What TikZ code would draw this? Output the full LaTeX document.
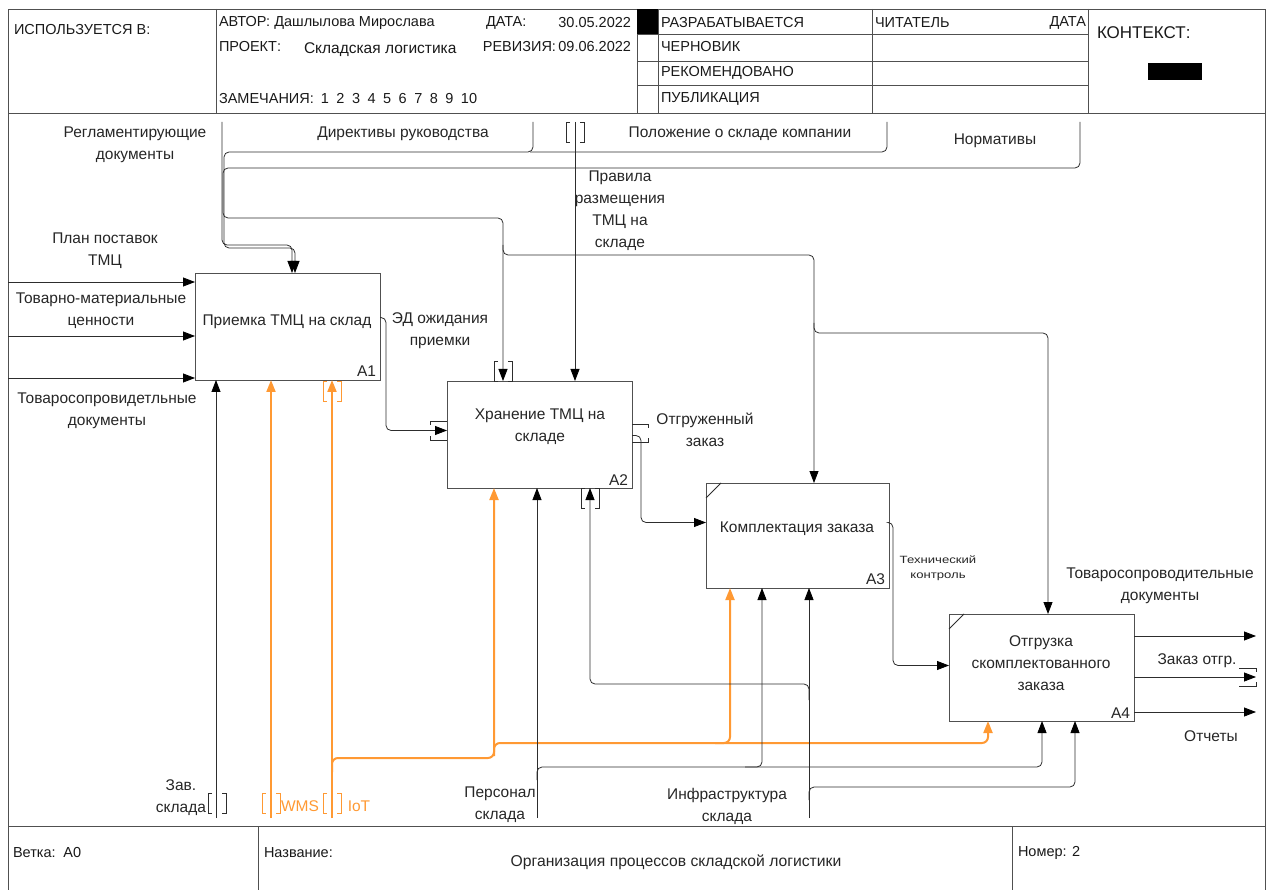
\documentclass[tikz,border=0pt]{standalone}
\usepackage{fontspec}
\usepackage{graphicx}
\setmainfont{Liberation Sans}
\usetikzlibrary{arrows.meta}
\definecolor{ln}{RGB}{45,45,45}
\definecolor{bx}{RGB}{80,80,80}
\definecolor{org}{RGB}{255,153,51}
\newcommand{\tunv}[3]{%
 \draw[#1] (#2-5,#3-10) -- (#2-9,#3-10) -- (#2-9,#3+10) -- (#2-5,#3+10);
 \draw[#1] (#2+5,#3-10) -- (#2+9,#3-10) -- (#2+9,#3+10) -- (#2+5,#3+10);}
\begin{document}
\begin{tikzpicture}[x=1pt,y=-1pt,
  every node/.style={inner sep=0pt, outer sep=0pt},
  frame/.style={draw=bx, line width=0.8pt},
  hdr/.style={font=\fontsize{14.5}{16}\selectfont, anchor=west, text=black!90},
  ftr/.style={font=\fontsize{14.5}{16}\selectfont, anchor=west, text=black!90},
  lbl/.style={font=\fontsize{15.5}{22}\selectfont, align=center, text=black!85},
  small/.style={font=\fontsize{10.5}{15}\selectfont, align=center, text=black!85},
  olbl/.style={font=\fontsize{15.5}{22}\selectfont, text=org},
  proc/.style={draw=bx, line width=0.9pt, minimum width=185pt, minimum height=107pt, anchor=north west},
  conn/.style={draw=ln, line width=0.8pt, rounded corners=5pt},
  arr/.style={conn, -{Triangle[length=12pt,width=9pt,color=black]}},
  oarr/.style={draw=org, line width=2pt, rounded corners=6pt, -{Triangle[length=12pt,width=9pt]}},
  brk/.style={draw=ln, line width=0.8pt},
  obrk/.style={draw=org, line width=0.9pt},
]
\useasboundingbox (0,0) rectangle (1272,890);
% ---------- frame ----------
\draw[frame] (8,890) -- (8,9) -- (1265,9) -- (1265,890);
\draw[frame] (8,113) -- (1265,113);
\foreach \xx in {216,637,658,872,1088} \draw[frame] (\xx,9) -- (\xx,113);
\foreach \yy in {34,61,85} \draw[frame] (637,\yy) -- (1088,\yy);
\fill[black] (637,9) rectangle (658,34);
\fill[black] (1148,63) rectangle (1202,80);
\draw[frame] (8,826) -- (1265,826);
\draw[frame] (258,826) -- (258,890);
\draw[frame] (1012,826) -- (1012,890);
% ---------- header text ----------
\node[hdr] (h1) at (14,30) {ИСПОЛЬЗУЕТСЯ В:};
\node[hdr] (h2) at (219,23) {АВТОР: Дашлылова Мирослава};
\node[hdr] (h3) at (486,23) {ДАТА:};
\node[hdr, anchor=east] (h4) at (631,23) {30.05.2022};
\node[hdr] (h5) at (219,47) {ПРОЕКТ:};
\node[hdr, font=\fontsize{15.5}{17}\selectfont] (h6) at (304,50) {Складская логистика};
\node[hdr, anchor=east] (h7) at (631,47) {РЕВИЗИЯ:\,09.06.2022};
\node[hdr] (h8) at (219,99) {ЗАМЕЧАНИЯ:\hspace{7pt}1\hspace{7.5pt}2\hspace{7.5pt}3\hspace{7.5pt}4\hspace{7.5pt}5\hspace{7.5pt}6\hspace{7.5pt}7\hspace{7.5pt}8\hspace{7.5pt}9\hspace{7.5pt}10};
\node[hdr] (h9) at (661,23) {РАЗРАБАТЫВАЕТСЯ};
\node[hdr] (h10) at (875,23) {ЧИТАТЕЛЬ};
\node[hdr, anchor=east] (h11) at (1086,23) {ДАТА};
\node[hdr] (h12) at (661,47) {ЧЕРНОВИК};
\node[hdr] (h13) at (661,73) {РЕКОМЕНДОВАНО};
\node[hdr] (h14) at (661,99) {ПУБЛИКАЦИЯ};
\node[hdr, font=\fontsize{17}{19}\selectfont] (h15) at (1097,33) {КОНТЕКСТ:};
% ---------- footer text ----------
\node[ftr] (f1) at (13,853) {Ветка:\, A0};
\node[ftr] (f2) at (264,853) {Название:};
\node[lbl, font=\fontsize{15.7}{18}\selectfont] (f3) at (676,862) {Организация процессов складской логистики};
\node[ftr] (f4) at (1018,853) {Номер: 2};
% ---------- activity boxes ----------
\node[proc] (A1) at (195,273) {};
\node[proc] (A2) at (447,381) {};
\node[proc, minimum width=183pt, minimum height=105pt] (A3) at (706,483) {};
\node[proc] (A4) at (949,614) {};
\node[lbl] (t1) at (287,322) {Приемка ТМЦ на склад};
\node[lbl] (t2) at (540,427) {Хранение ТМЦ на\\складе};
\node[lbl] (t3) at (797,529) {Комплектация заказа};
\node[lbl] (t4) at (1041,663) {Отгрузка\\скомплектованного\\заказа};
\node[lbl, anchor=south east] (n1) at ([xshift=-4pt,yshift=3pt]A1.south east) {A1};
\node[lbl, anchor=south east] (n2) at ([xshift=-4pt,yshift=3pt]A2.south east) {A2};
\node[lbl, anchor=south east] (n3) at ([xshift=-4pt,yshift=3pt]A3.south east) {A3};
\node[lbl, anchor=south east] (n4) at ([xshift=-4pt,yshift=3pt]A4.south east) {A4};
\draw[conn] ([yshift=-15pt]A3.north west) -- ([xshift=15pt]A3.north west);
\draw[conn] ([yshift=-15pt]A4.north west) -- ([xshift=15pt]A4.north west);
% ---------- inputs ----------
\coordinate (in1) at (8,282);
\coordinate (in2) at (8,336);
\coordinate (in3) at (8,378);
\draw[arr] (in1) -- (in1 -| A1.west);
\draw[arr] (in2) -- (in2 -| A1.west);
\draw[arr] (in3) -- (in3 -| A1.west);
\node[lbl] (l1) at (105,251) {План поставок\\ТМЦ};
\node[lbl] (l2) at (101,311) {Товарно-материальные\\ценности};
\node[lbl] (l3) at (107,411) {Товаросопровидетльные\\документы};
% ---------- controls ----------
\coordinate (c1) at (222,122);
\coordinate (c2) at (533,122);
\coordinate (c3) at (887,122);
\coordinate (c4) at (1080,122);
\coordinate (c5) at (575,122);
\draw[arr] (c1) -- (222,245) -- (292,245) -- ([xshift=97pt]A1.north west);
\draw[arr] (c2) -- (533,152) -- (224,152) -- (224,248) -- (295,248) -- ([xshift=100pt]A1.north west);
\draw[conn] (c3) -- (887,152) -- (530,152);
\draw[arr] (c4) -- (1080,168) -- (223,168) -- (223,218) -- (503,218) -- ([xshift=56pt]A2.north west);
\draw[arr] (c5) -- ([xshift=128pt]A2.north west);
\draw[arr] (503,245) -- (503,255) -- (814,255) -- ([xshift=108pt]A3.north west);
\draw[arr] (814,323) -- (814,333) -- (1048,333) -- ([xshift=99pt]A4.north west);
\tunv{brk}{575}{132}
\tunv{brk}{503}{371}
\node[lbl] (l4) at (135,145) {Регламентирующие\\документы};
\node[lbl] (l5) at (403,134) {Директивы руководства};
\node[lbl] (l6) at (740,134) {Положение о складе компании};
\node[lbl] (l7) at (995,141) {Нормативы};
\node[lbl] (l8) at (620,211) {Правила\\размещения\\ТМЦ на\\складе};
% ---------- internal flows ----------
\draw[arr] ([yshift=9pt]A1.east) -- (386,317.5) -- (386,430.5) -- ([yshift=4pt]A2.west);
\draw[brk] (447,421) -- (430,421) -- (430,425);
\draw[brk] (447,440) -- (430,440) -- (430,436);
\node[lbl] (l9) at (440,331) {ЭД ожидания\\приемки};
\draw[arr] ([yshift=-1pt]A2.east) -- (641,435.5) -- (641,522.5) -- ([yshift=13pt]A3.west);
\draw[brk] (632,424) -- (648,424) -- (648,428);
\draw[brk] (632,442) -- (648,442) -- (648,438);
\node[lbl] (l10) at (705,430) {Отгруженный\\заказ};
\draw[arr] ([yshift=13pt]A3.east) -- (893,522.5) -- (893,665.5) -- ([yshift=2pt]A4.west);
\node[small] (l11) at (938,568) {\scalebox{1.25}[1]{Технический}\\\scalebox{1.25}[1]{контроль}};
% ---------- outputs ----------
\coordinate (o1) at (1256,636);
\coordinate (o2) at (1256,677);
\coordinate (o3) at (1256,712);
\draw[arr] (o1 -| A4.east) -- (o1);
\draw[arr] (o2 -| A4.east) -- (o2);
\draw[arr] (o3 -| A4.east) -- (o3);
\draw[brk] (1239,668) -- (1256,668) -- (1256,672);
\draw[brk] (1239,686) -- (1256,686) -- (1256,682);
\node[lbl] (l12) at (1160,586) {Товаросопроводительные\\документы};
\node[lbl] (l13) at (1197,661) {Заказ отгр.};
\node[lbl] (l14) at (1211,736) {Отчеты};
% ---------- mechanisms ----------
\coordinate (m1) at (216,818);
\coordinate (m2) at (271,818);
\coordinate (m3) at (332,818);
\coordinate (m4) at (537,818);
\coordinate (m5) at (809,818);
\draw[arr] (m1) -- (m1 |- A1.south);
\draw[oarr] (m2) -- (m2 |- A1.south);
\draw[oarr] (m3) -- (m3 |- A1.south);
\draw[oarr] (332,772) -- (332,758) -- (494,758) -- ([xshift=47pt]A2.south west);
\draw[oarr] (494,756) -- (494,743) -- (730,743) -- ([xshift=24pt]A3.south west);
\draw[oarr] (715,743) -- (988,743) -- ([xshift=39pt]A4.south west);
\draw[arr] (m4) -- (m4 |- A2.south);
\draw[arr] (537,780) -- (537,767) -- (762,767) -- ([xshift=56pt]A3.south west);
\draw[arr] (745,767) -- (1042,767) -- ([xshift=93pt]A4.south west);
\draw[arr] (m5) -- (m5 |- A3.south);
\draw[arr] (809,700) -- (809,684) -- (590,684) -- ([xshift=143pt]A2.south west);
\draw[arr] (809,800) -- (809,787) -- (1075,787) -- ([xshift=126pt]A4.south west);
\tunv{brk}{590}{498}
\tunv{obrk}{332}{391}
\tunv{brk}{217}{803}
\tunv{obrk}{271}{803}
\tunv{obrk}{332}{803}
\node[lbl] (l15) at (181,798) {Зав.\\склада};
\node[olbl] (l16) at (300,806) {WMS};
\node[olbl] (l17) at (359,806) {IoT};
\node[lbl] (l18) at (500,805) {Персонал\\склада};
\node[lbl] (l19) at (727,806) {Инфраструктура\\склада};
\end{tikzpicture}
\end{document}
